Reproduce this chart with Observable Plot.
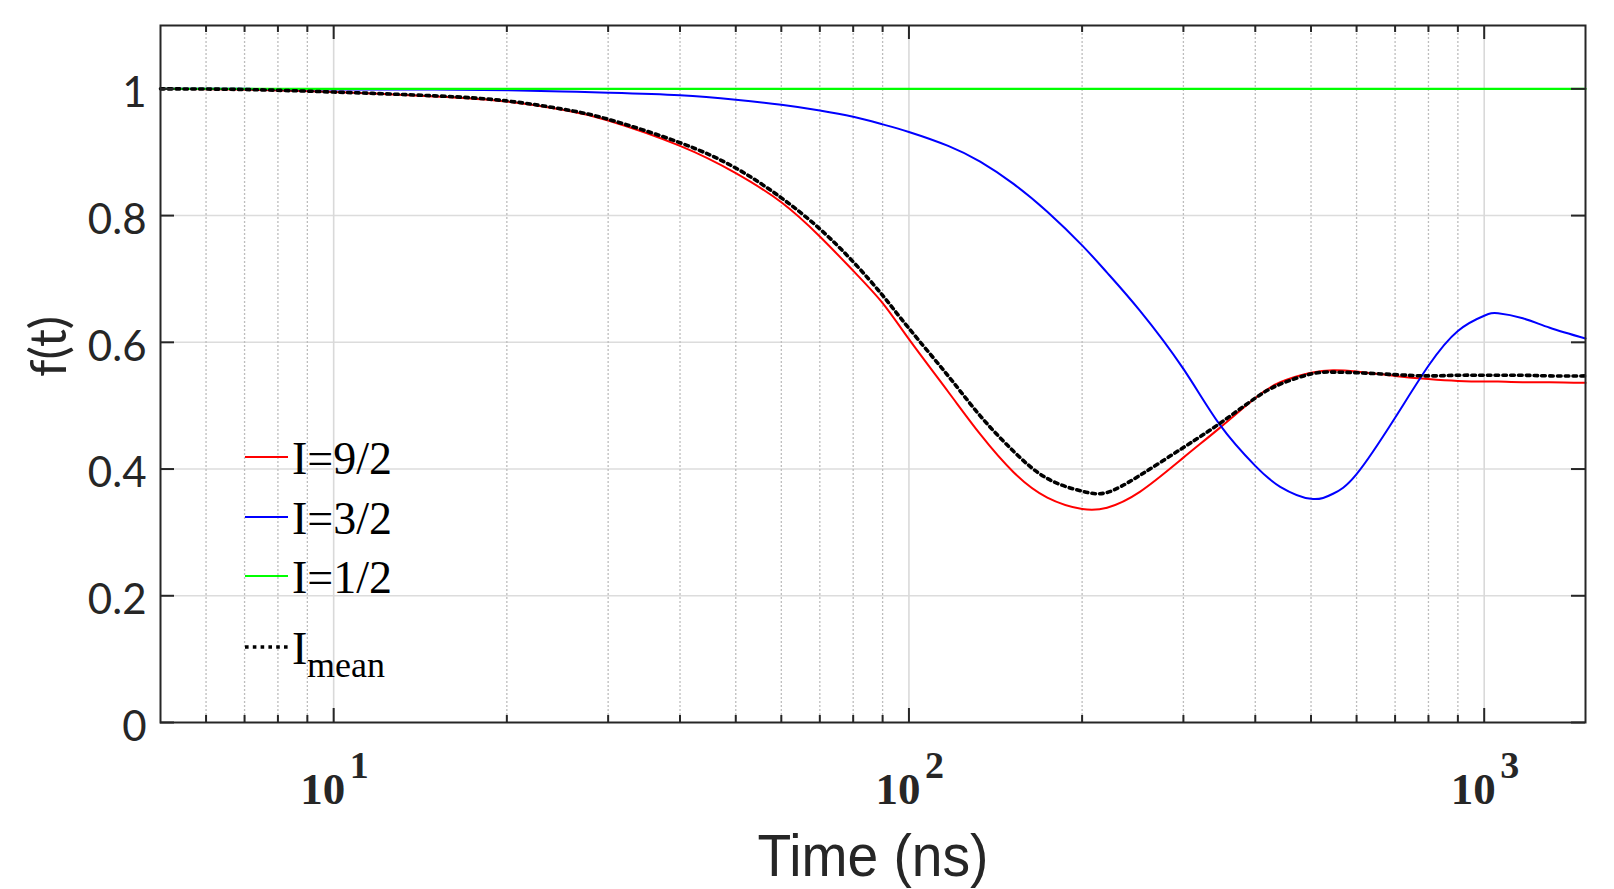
<!DOCTYPE html>
<html>
<head>
<meta charset="utf-8">
<script src="https://cdn.jsdelivr.net/npm/d3@7"></script>
<script src="https://cdn.jsdelivr.net/npm/@observablehq/plot@0.6"></script>
<style>
  html, body { margin: 0; padding: 0; background: #fff; }
  svg { display: block; }
</style>
</head>
<body>
<div id="chart"></div>
<script>
// ---------- data ----------
const time = [5, 7, 10, 15, 20, 25, 30, 40, 50, 60, 70, 80, 90, 100, 117, 133, 152, 174, 200, 221, 252, 300, 347, 400, 442, 500, 546, 600, 700, 800, 900, 1000, 1057, 1167, 1300, 1500];
const fI92 = [1.000, 0.999, 0.995, 0.988, 0.980, 0.967, 0.950, 0.910, 0.867, 0.821, 0.767, 0.713, 0.662, 0.605, 0.522, 0.455, 0.395, 0.355, 0.337, 0.339, 0.364, 0.418, 0.465, 0.512, 0.537, 0.552, 0.556, 0.554, 0.547, 0.542, 0.539, 0.538, 0.538, 0.537, 0.537, 0.536];
const fI32 = [1.000, 1.000, 0.999, 0.999, 0.998, 0.996, 0.994, 0.990, 0.983, 0.975, 0.966, 0.956, 0.944, 0.932, 0.910, 0.885, 0.850, 0.806, 0.753, 0.710, 0.650, 0.558, 0.470, 0.405, 0.372, 0.353, 0.361, 0.392, 0.481, 0.563, 0.618, 0.642, 0.646, 0.638, 0.623, 0.606];
const fI12 = [1, 1, 1, 1, 1, 1, 1, 1, 1, 1, 1, 1, 1, 1, 1, 1, 1, 1, 1, 1, 1, 1, 1, 1, 1, 1, 1, 1, 1, 1, 1, 1, 1, 1, 1, 1];
const fMean = [1.000, 0.999, 0.995, 0.989, 0.981, 0.968, 0.952, 0.915, 0.875, 0.828, 0.779, 0.727, 0.674, 0.622, 0.547, 0.484, 0.428, 0.385, 0.365, 0.363, 0.390, 0.434, 0.472, 0.512, 0.534, 0.550, 0.553, 0.552, 0.549, 0.547, 0.548, 0.548, 0.548, 0.548, 0.547, 0.547];

const seriesKeys = ["I=9/2", "I=3/2", "I=1/2", "Imean"];
const legendMain = ["I=9/2", "I=3/2", "I=1/2", "I"];
const legendSub = ["", "", "", "mean"];
const seriesColors = ["#ff0000", "#0000ff", "#00ff00", "#000000"];

const xMajorTicks = [10, 100, 1000];
const xTickBase = ["10", "10", "10"];
const xTickExponents = ["1", "2", "3"];
const xMinorTicks = [6, 7, 8, 9, 20, 30, 40, 50, 60, 70, 80, 90, 200, 300, 400, 500, 600, 700, 800, 900];
const yTicks = [0, 0.2, 0.4, 0.6, 0.8, 1];
const yTickLabels = ["0", "0.2", "0.4", "0.6", "0.8", "1"];
const xTitle = "Time (ns)";
const yTitle = "f(t)";

// ---------- layout ----------
const W = 1614, H = 889;
const mL = 160, mR = 29, mT = 25, mB = 167;
const innerW = W - mL - mR, innerH = H - mT - mB;
const axisColor = "#262626";
const serif = "'Liberation Serif', 'Times New Roman', 'DejaVu Serif', serif";
const sans = "Lato, 'Noto Sans', sans-serif";

const allSeries = [fI92, fI32, fI12, fMean];
const rows = [];
allSeries.forEach((vals, s) => vals.forEach((v, i) => rows.push({ t: time[i], f: v, series: seriesKeys[s] })));
const bySeries = k => rows.filter(r => r.series === k);
const dotted = "3.6,4.2";
const curve = "natural";

const chart = Plot.plot({
  width: W,
  height: H,
  marginLeft: mL, marginRight: mR, marginTop: mT, marginBottom: mB,
  x: { type: "log", domain: [5, 1500], axis: null },
  y: { domain: [0, 1.1], axis: null },
  style: { background: "#fff" },
  marks: [
    // grid
    Plot.ruleY(yTicks.filter(d => d > 0), { y: d => d, stroke: "#dcdcdc", strokeWidth: 1.5 }),
    Plot.ruleX(xMinorTicks, { x: d => d, stroke: "#bdbdbd", strokeWidth: 1.3, strokeDasharray: "2,2" }),
    Plot.ruleX(xMajorTicks, { x: d => d, stroke: "#d9d9d9", strokeWidth: 1.6 }),
    // curves
    Plot.line(bySeries("I=9/2"), { x: "t", y: "f", stroke: seriesColors[0], strokeWidth: 2, curve }),
    Plot.line(bySeries("I=3/2"), { x: "t", y: "f", stroke: seriesColors[1], strokeWidth: 2, curve }),
    Plot.line(bySeries("I=1/2"), { x: "t", y: "f", stroke: seriesColors[2], strokeWidth: 2.4, curve }),
    Plot.line(bySeries("Imean"), { x: "t", y: "f", stroke: seriesColors[3], strokeWidth: 3.6, strokeDasharray: dotted, curve }),
    // frame
    Plot.frame({ stroke: axisColor, strokeWidth: 2 }),
    // inward ticks, bottom & top
    Plot.ruleX(xMajorTicks, { x: d => d, insetTop: innerH - 14, stroke: axisColor, strokeWidth: 2 }),
    Plot.ruleX(xMajorTicks, { x: d => d, insetBottom: innerH - 14, stroke: axisColor, strokeWidth: 2 }),
    Plot.ruleX(xMinorTicks, { x: d => d, insetTop: innerH - 7, stroke: axisColor, strokeWidth: 2 }),
    Plot.ruleX(xMinorTicks, { x: d => d, insetBottom: innerH - 7, stroke: axisColor, strokeWidth: 2 }),
    // inward ticks, left & right
    Plot.ruleY(yTicks, { y: d => d, insetRight: innerW - 14, stroke: axisColor, strokeWidth: 2 }),
    Plot.ruleY(yTicks, { y: d => d, insetLeft: innerW - 14, stroke: axisColor, strokeWidth: 2 }),
    // y tick labels
    Plot.text(yTicks, {
      y: d => d, frameAnchor: "left", text: (d, i) => yTickLabels[i],
      textAnchor: "end", dx: -14, dy: 5,
      fontSize: 42, fontFamily: sans, fill: axisColor
    }),
    // x tick labels: base + exponent
    Plot.text(xMajorTicks, {
      x: d => d, frameAnchor: "bottom", text: (d, i) => xTickBase[i],
      textAnchor: "end", lineAnchor: "bottom", dx: 11.5, dy: 81,
      fontSize: 45, fontWeight: "bold", fontFamily: serif, fill: axisColor
    }),
    Plot.text(xMajorTicks, {
      x: d => d, frameAnchor: "bottom", text: (d, i) => xTickExponents[i],
      textAnchor: "start", lineAnchor: "bottom", dx: 16, dy: 55,
      fontSize: 38, fontWeight: "bold", fontFamily: serif, fill: axisColor
    }),
    // axis titles
    Plot.text([xTitle], {
      frameAnchor: "bottom", text: d => d, lineAnchor: "bottom", dy: 153,
      fontSize: 60, fontFamily: "'Liberation Sans', Arial, sans-serif", fill: axisColor
    }),
    Plot.text([yTitle], {
      frameAnchor: "left", text: d => d, rotate: -90, dx: -111, dy: 3,
      fontSize: 50, fontFamily: sans, fill: axisColor
    })
  ]
});

// condense the x title to match the narrow face of the reference
const svg = d3.select(chart);
svg.selectAll("text").filter(function () { return this.textContent === xTitle; })
  .attr("textLength", 231).attr("lengthAdjust", "spacingAndGlyphs");

// ---------- legend ----------
const legendRowsY = [457, 517, 576, 647];
const legend = svg.append("g").attr("class", "legend").attr("text-anchor", "start");
seriesKeys.forEach((k, i) => {
  const y = legendRowsY[i];
  legend.append("line")
    .attr("x1", 245).attr("x2", 288).attr("y1", y).attr("y2", y)
    .attr("stroke", seriesColors[i])
    .attr("stroke-width", i === 3 ? 3.6 : 2)
    .attr("stroke-dasharray", i === 3 ? dotted : null);
  legend.append("text")
    .attr("x", 292).attr("y", y + 17)
    .attr("text-anchor", "start")
    .attr("font-family", serif)
    .attr("font-size", 46).attr("fill", "#000")
    .text(legendMain[i]);
  if (legendSub[i]) {
    legend.append("text")
      .attr("x", 307).attr("y", y + 30)
      .attr("text-anchor", "start")
      .attr("font-family", serif)
      .attr("font-size", 36).attr("fill", "#000")
      .text(legendSub[i]);
  }
});

document.getElementById("chart").appendChild(chart);
</script>
</body>
</html>
